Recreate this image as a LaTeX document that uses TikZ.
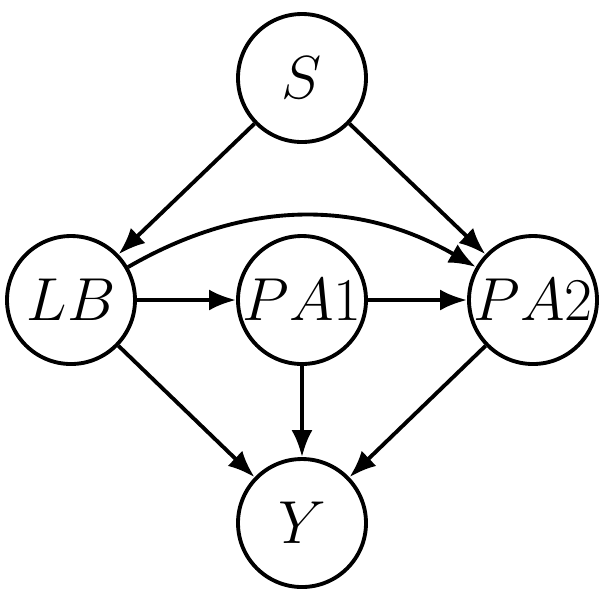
\documentclass[tikz,border=0pt]{standalone}
\usepackage{amsmath}
\usepackage{tikz}
\usetikzlibrary{arrows.meta, positioning}

\begin{document}
\begin{tikzpicture}[
  var/.style={circle, draw=black, line width=1.1pt, minimum size=1.28cm, inner sep=0pt, font=\LARGE},
  edge/.style={-{Latex[length=0.27cm, width=0.21cm]}, line width=1.1pt}
]
  \useasboundingbox (-3.02, -3.05) rectangle (3.05, 3.00);

  \node[var] (s)   at (0, 2.22)  {$S$};
  \node[var] (lb)  at (-2.31, 0) {$LB$};
  \node[var] (pa1) at (0, 0)     {$PA1$};
  \node[var] (pa2) at (2.31, 0)  {$PA2$};
  \node[var] (y)   at (0, -2.23) {$Y$};

  \draw[edge] (s) -- (lb);
  \draw[edge] (s) -- (pa2);
  \draw[edge] (lb) to[out=30, in=150] (pa2);
  \draw[edge] (lb) -- (pa1);
  \draw[edge] (pa1) -- (pa2);
  \draw[edge] (lb) -- (y);
  \draw[edge] (pa1) -- (y);
  \draw[edge] (pa2) -- (y);
\end{tikzpicture}
\end{document}
